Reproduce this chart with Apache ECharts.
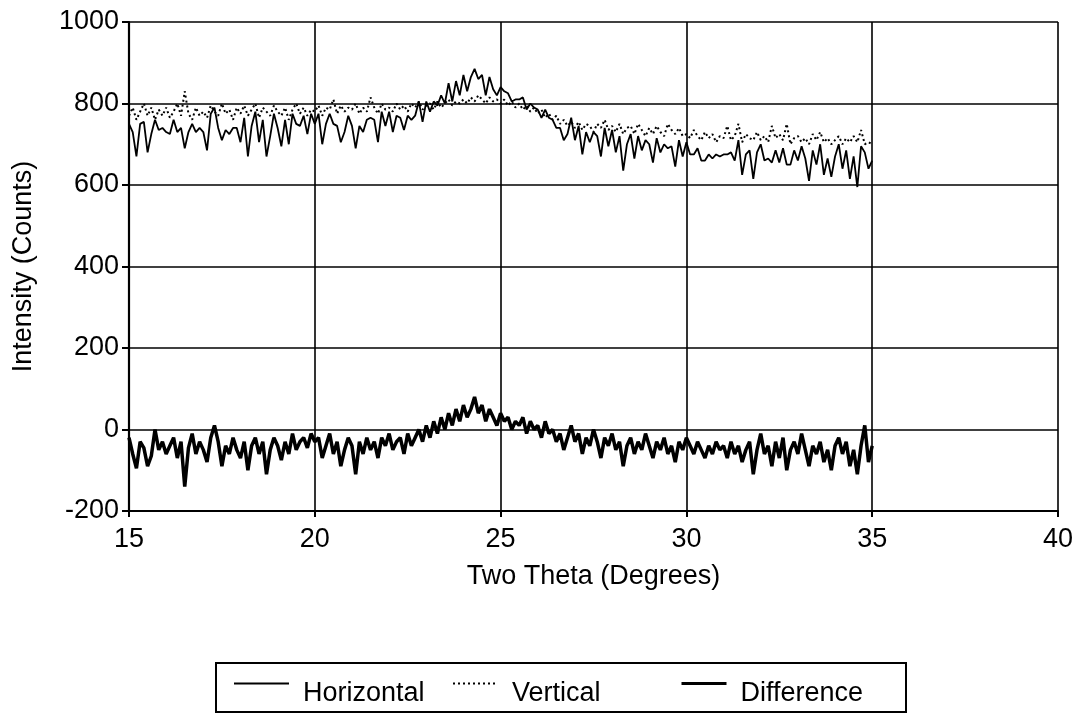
<!DOCTYPE html>
<html>
<head>
<meta charset="utf-8">
<script src="https://cdn.jsdelivr.net/npm/echarts@6/dist/echarts.min.js"></script>
<style>
  html, body { margin: 0; padding: 0; background: #ffffff; }
  #chart { width: 1078px; height: 728px; }
</style>
</head>
<body>
<div id="chart"></div>
<script>
// Scan sampling: two-theta from 15.0 degrees in 0.1 degree steps (201 points, 15.0 .. 35.0)
const thetaStart = 15.0;
const thetaStep = 0.1;

// Intensity (counts), one row per degree
const horizontal = [
  750, 730, 670, 750, 755, 680, 725, 760, 735, 740,   // 15
  730, 725, 760, 730, 740, 690, 730, 750, 730, 740,   // 16
  730, 685, 775, 790, 740, 710, 735, 725, 740, 740,   // 17
  705, 765, 670, 745, 780, 705, 760, 670, 720, 775,   // 18
  740, 695, 760, 700, 775, 750, 745, 770, 725, 775,   // 19
  750, 775, 700, 750, 775, 750, 745, 705, 730, 770,   // 20
  745, 690, 745, 730, 760, 765, 760, 705, 780, 745,   // 21
  780, 730, 770, 765, 735, 770, 760, 770, 805, 755,   // 22
  805, 780, 805, 795, 820, 800, 850, 805, 855, 820,   // 23
  870, 830, 865, 885, 860, 870, 820, 865, 835, 820,   // 24
  840, 830, 825, 805, 810, 810, 815, 785, 800, 790,   // 25
  785, 765, 785, 765, 760, 740, 740, 710, 725, 765,   // 26
  710, 745, 675, 730, 705, 730, 720, 670, 740, 695,   // 27
  735, 680, 720, 635, 700, 725, 665, 720, 685, 710,   // 28
  700, 655, 715, 680, 700, 690, 695, 645, 710, 670,   // 29
  705, 675, 675, 690, 660, 660, 675, 665, 675, 670,   // 30
  675, 675, 680, 660, 710, 625, 675, 685, 615, 680,   // 31
  700, 660, 665, 655, 685, 655, 690, 650, 650, 685,   // 32
  660, 695, 665, 610, 685, 650, 700, 625, 665, 620,   // 33
  670, 700, 640, 685, 615, 670, 595, 695, 680, 640,   // 34
  660                                                 // 35
];

const vertical = [
  770, 790, 760, 780, 800, 770, 790, 760, 785, 770,   // 15
  790, 765, 780, 800, 770, 830, 775, 760, 790, 770,   // 16
  780, 765, 795, 780, 770, 800, 775, 785, 760, 790,   // 17
  775, 795, 770, 785, 800, 765, 790, 780, 770, 795,   // 18
  780, 770, 790, 760, 785, 800, 775, 790, 770, 785,   // 19
  780, 795, 770, 790, 785, 810, 775, 795, 780, 790,   // 20
  785, 800, 775, 790, 780, 815, 790, 775, 800, 785,   // 21
  790, 780, 800, 785, 795, 780, 800, 790, 805, 785,   // 22
  795, 800, 785, 805, 790, 800, 810, 795, 805, 800,   // 23
  810, 800, 815, 805, 820, 810, 800, 815, 805, 810,   // 24
  800, 810, 795, 805, 790, 800, 785, 795, 780, 790,   // 25
  775, 785, 765, 775, 760, 770, 750, 760, 745, 755,   // 26
  740, 755, 735, 750, 745, 730, 750, 740, 760, 735,   // 27
  745, 730, 750, 725, 740, 745, 725, 750, 735, 720,   // 28
  740, 725, 745, 730, 720, 750, 735, 725, 740, 720,   // 29
  725, 715, 735, 720, 710, 730, 715, 725, 705, 720,   // 30
  715, 745, 710, 720, 750, 705, 725, 715, 710, 730,   // 31
  710, 720, 705, 745, 715, 725, 710, 750, 700, 715,   // 32
  720, 705, 715, 700, 725, 710, 730, 705, 715, 700,   // 33
  710, 720, 700, 715, 705, 720, 705, 735, 700, 705,   // 34
  700                                                 // 35
];

const difference = [
  -20, -60, -95, -30, -45, -90, -65,   0, -50, -30,   // 15
  -60, -40, -20, -70, -30,-140, -45, -10, -60, -30,   // 16
  -50, -80, -20,  10, -30, -90, -40, -60, -20, -50,   // 17
  -70, -30,-100, -40, -20, -60, -30,-110, -50, -20,   // 18
  -40, -75, -30, -60, -10, -50, -30, -20, -45, -10,   // 19
  -30, -20, -70, -40, -10, -60, -30, -90, -50, -20,   // 20
  -40,-110, -30, -60, -20, -50, -30, -70, -20, -40,   // 21
  -10, -50, -30, -20, -60, -10, -40, -20,   0, -30,   // 22
   10, -20,  20, -10,  30,   0,  40,  10,  50,  20,   // 23
   60,  30,  50,  80,  40,  60,  20,  50,  30,  10,   // 24
   40,  20,  30,   0,  20,  10,  30, -10,  20,   0,   // 25
   10, -20,  20, -10,   0, -30, -10, -50, -20,  10,   // 26
  -30, -10, -60, -20, -40,   0, -30, -70, -20, -40,   // 27
  -10, -50, -30, -90, -40, -20, -60, -30, -50, -10,   // 28
  -40, -70, -30, -50, -20, -60, -40, -80, -30, -50,   // 29
  -20, -40, -60, -30, -50, -70, -40, -60, -30, -50,   // 30
  -40, -70, -30, -60, -40, -80, -50, -30,-110, -50,   // 31
  -10, -60, -40, -90, -30, -70, -20,-100, -50, -30,   // 32
  -60, -10, -50, -90, -40, -60, -30, -80, -50,-100,   // 33
  -40, -20, -60, -30, -90, -50,-110, -40,  10, -80,   // 34
  -40                                                 // 35
];

const seriesNames = ['Horizontal', 'Vertical', 'Difference'];
const xTicks = { min: 15, max: 40, interval: 5 };
const yTicks = { min: -200, max: 1000, interval: 200 };

function pairs(values) {
  return values.map((v, i) => [+(thetaStart + i * thetaStep).toFixed(1), v]);
}

const FONT = '"Liberation Sans", Arial, Helvetica, sans-serif';
const INK = '#000000';

// Line styles shared by each series and its legend sample
const styles = {
  Horizontal: { color: INK, width: 1.8, type: 'solid' },
  Vertical:   { color: INK, width: 2,   type: [2, 3] },
  Difference: { color: INK, width: 3.5, type: 'solid' }
};

// One legend per entry so each sample/label pair sits at its own spot in the box;
// the label sits a little below the line sample
function legendFor(name, left, itemWidth) {
  return {
    data: [name],
    orient: 'horizontal',
    left: left,
    top: 678,
    padding: 0,
    itemWidth: itemWidth,
    itemHeight: 14,
    selectedMode: false,
    itemStyle: { opacity: 0 },
    lineStyle: Object.assign({}, styles[name], { width: name === 'Difference' ? 3 : 2 }),
    formatter: '{lbl|{name}}',
    textStyle: {
      fontFamily: FONT, fontSize: 27, color: INK,
      rich: { lbl: { fontFamily: FONT, fontSize: 27, color: INK, padding: [20, 0, 0, 9] } }
    }
  };
}

const chart = echarts.init(document.getElementById('chart'), null, { renderer: 'canvas' });
chart.setOption({
  animation: false,
  backgroundColor: '#ffffff',
  color: [INK, INK, INK],
  grid: { left: 129, right: 20, top: 22, bottom: 217, containLabel: false },
  xAxis: {
    type: 'value',
    min: xTicks.min, max: xTicks.max, interval: xTicks.interval,
    name: 'Two Theta (Degrees)',
    nameLocation: 'middle',
    nameGap: 52,
    nameTextStyle: { fontFamily: FONT, fontSize: 27, color: INK },
    axisLine: { show: true, onZero: false, lineStyle: { color: INK, width: 2 } },
    axisTick: { show: true, inside: false, length: 6, lineStyle: { color: INK, width: 2 } },
    axisLabel: { fontFamily: FONT, fontSize: 27, color: INK, margin: 15, formatter: v => String(v) },
    splitLine: { show: true, lineStyle: { color: INK, width: 1.6 } }
  },
  yAxis: {
    type: 'value',
    min: yTicks.min, max: yTicks.max, interval: yTicks.interval,
    name: 'Intensity (Counts)',
    nameLocation: 'middle',
    nameGap: 92,
    nameTextStyle: { fontFamily: FONT, fontSize: 27, color: INK },
    axisLine: { show: true, lineStyle: { color: INK, width: 2.2 } },
    axisTick: { show: true, inside: false, length: 7, lineStyle: { color: INK, width: 2 } },
    axisLabel: { fontFamily: FONT, fontSize: 27, color: INK, margin: 10, formatter: v => String(v) },
    splitLine: { show: true, lineStyle: { color: INK, width: 1.6 } }
  },
  legend: [
    legendFor(seriesNames[0], 233, 55),
    legendFor(seriesNames[1], 452, 45),
    legendFor(seriesNames[2], 680, 45)
  ],
  graphic: [{
    type: 'rect',
    shape: { x: 216, y: 663, width: 690, height: 49 },
    style: { fill: 'none', stroke: INK, lineWidth: 2 },
    silent: true
  }],
  series: [
    {
      name: seriesNames[0], type: 'line', data: pairs(horizontal),
      symbol: 'none', silent: true, lineStyle: styles.Horizontal
    },
    {
      name: seriesNames[1], type: 'line', data: pairs(vertical),
      symbol: 'none', silent: true, lineStyle: styles.Vertical
    },
    {
      name: seriesNames[2], type: 'line', data: pairs(difference),
      symbol: 'none', silent: true, lineStyle: styles.Difference
    }
  ]
});
</script>
</body>
</html>
